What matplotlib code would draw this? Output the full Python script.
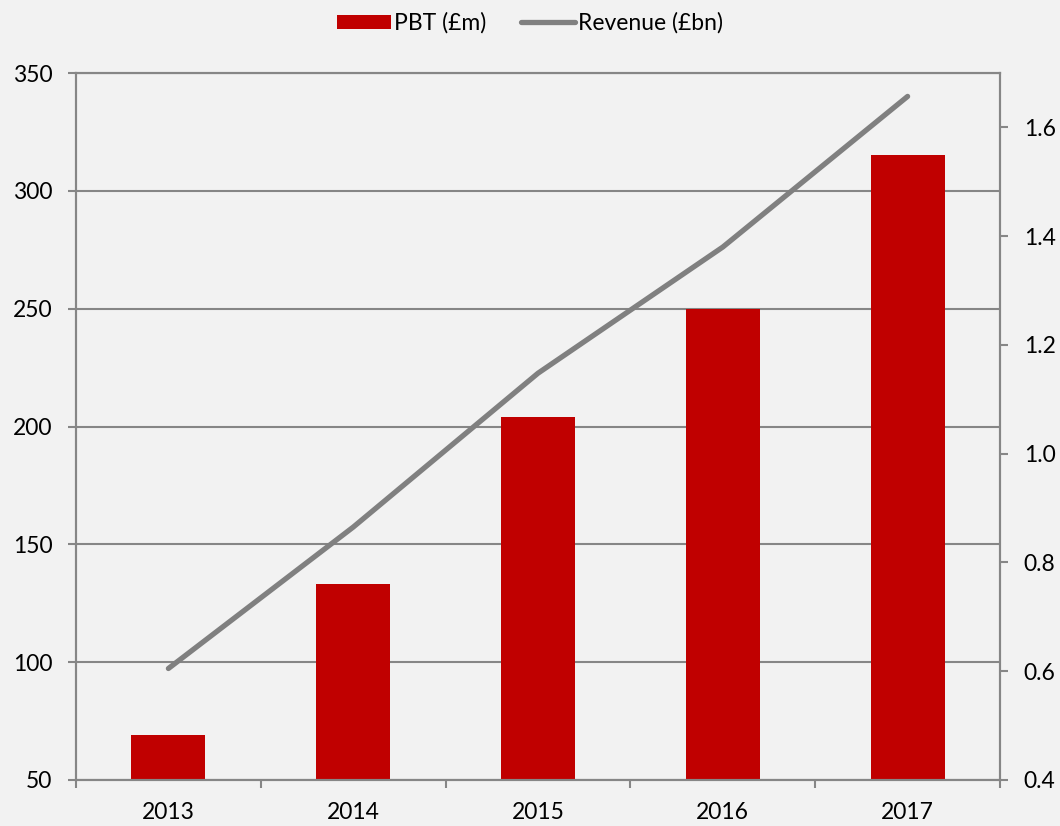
import matplotlib.pyplot as plt
import numpy as np

years = ['2013', '2014', '2015', '2016', '2017']
pbt = [69, 133, 204, 250, 315]
revenue = [0.605, 0.865, 1.148, 1.38, 1.657]

plt.rcParams['font.family'] = ['Lato', 'DejaVu Sans']
plt.rcParams['font.size'] = 16.5

bg = '#F2F2F2'
grey = '#868686'

fig = plt.figure(figsize=(10.6, 8.26), dpi=100, facecolor=bg)
ax = fig.add_axes([0.0717, 0.0557, 0.8717, 0.8559], facecolor=bg)
x = np.arange(len(years))

ax.set_axisbelow(True)
bars = ax.bar(x, pbt, width=0.4, color='#C00000', label='PBT (£m)', zorder=2)
ax.set_ylim(50, 350)
ax.set_yticks(np.arange(50, 351, 50))
ax.set_xlim(-0.5, len(years) - 0.5)
ax.set_xticks(x)
ax.set_xticklabels(years)
ax.set_xticks(np.arange(-0.5, len(years), 1), minor=True)
ax.tick_params(axis='x', which='major', length=0, pad=16)
ax.tick_params(axis='x', which='minor', length=6, width=1.5, color=grey)
ax.tick_params(axis='y', length=6, width=1.5, color=grey, pad=11)
ax.grid(axis='y', color=grey, linewidth=1.5)

for s in ['left', 'right', 'bottom', 'top']:
    ax.spines[s].set_color(grey)
    ax.spines[s].set_linewidth(1.5)

ax2 = ax.twinx()
line, = ax2.plot(x, revenue, color='#808080', linewidth=3.8,
                 solid_capstyle='round', label='Revenue (£bn)', zorder=3)
ax2.set_ylim(0.4, 1.7)
ax2.set_yticks([0.4, 0.6, 0.8, 1.0, 1.2, 1.4, 1.6])
ax2.set_yticklabels(['0.4', '0.6', '0.8', '1.0', '1.2', '1.4', '1.6'])
ax2.tick_params(axis='y', length=6, width=1.5, color=grey, pad=11)
for s in ['left', 'right', 'bottom', 'top']:
    ax2.spines[s].set_color(grey)
    ax2.spines[s].set_linewidth(1.5)

fig.legend(handles=[bars, line], loc='upper center', ncol=2, frameon=False,
           bbox_to_anchor=(0.5, 1.01), handlelength=2.35, handleheight=0.6,
           columnspacing=1.5, handletextpad=0.15, fontsize=16.5)

fig.savefig('out.png', dpi=100, facecolor=bg)
